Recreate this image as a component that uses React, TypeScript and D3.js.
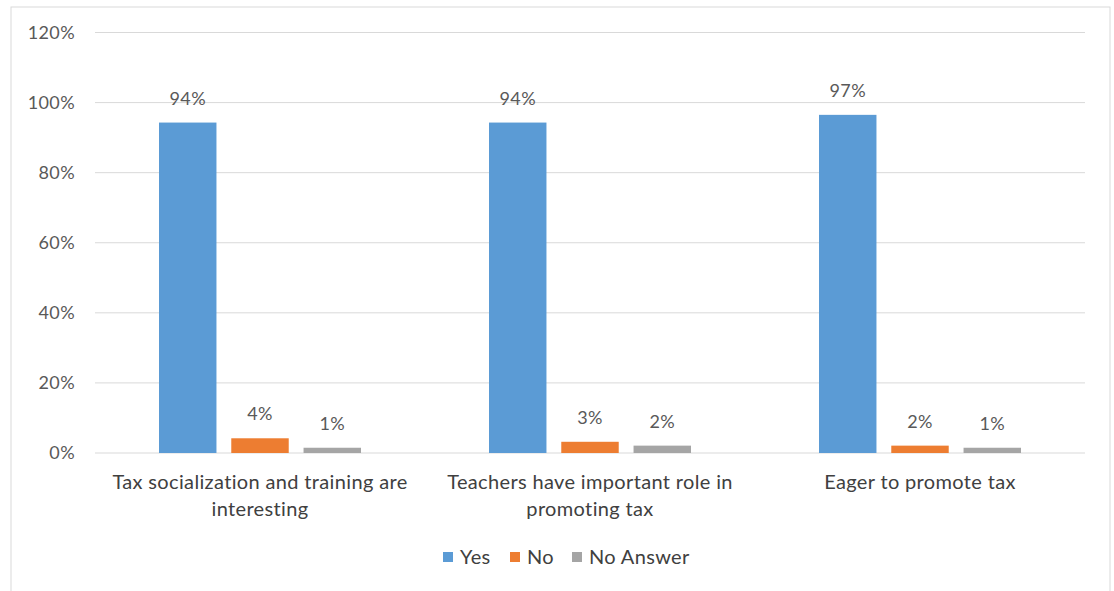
import React from "react";
import * as d3 from "d3";

const categories = [
  "Tax socialization and training are interesting",
  "Teachers have important role in promoting tax",
  "Eager to promote tax",
];
const categoryLines = [
  ["Tax socialization and training are", "interesting"],
  ["Teachers have important role in", "promoting tax"],
  ["Eager to promote tax"],
];
const seriesNames = ["Yes", "No", "No Answer"];
const yesValues = [94.3, 94.3, 96.5];
const noValues = [4.2, 3.2, 2.1];
const noAnswerValues = [1.5, 2.1, 1.5];
const valueLabels = [
  ["94%", "4%", "1%"],
  ["94%", "3%", "2%"],
  ["97%", "2%", "1%"],
];
const yTicks = [0, 20, 40, 60, 80, 100, 120];
const colors = ["#5B9BD5", "#ED7D31", "#A5A5A5"];

export default function App() {
  const W = 1114, H = 591;
  const left = 95, right = 1085, top = 32.5, bottom = 453;
  const font = "Lato, 'Open Sans', sans-serif";
  const x0 = d3.scaleBand<string>().domain(categories).range([left, right]).paddingInner(0).paddingOuter(0);
  const groupInner = 202;
  const x1 = d3
    .scaleBand<string>()
    .domain(seriesNames)
    .range([0, groupInner])
    .paddingInner(0.205)
    .paddingOuter(0);
  const y = d3.scaleLinear().domain([0, 120]).range([bottom, top]);
  const series = [yesValues, noValues, noAnswerValues];

  const legendItems = [
    { name: "Yes", x: 443 },
    { name: "No", x: 510 },
    { name: "No Answer", x: 572 },
  ];

  return (
    <svg width={W} height={H} style={{ position: "absolute", left: 0, top: 0, background: "#fff" }}>
      <rect x={11} y={7} width={1099} height={600} fill="#fff" stroke="#D9D9D9" strokeWidth={1} />
      {yTicks.map((t) => (
        <g key={t}>
          <line x1={left} x2={right} y1={y(t)} y2={y(t)} stroke="#D9D9D9" strokeWidth={1} />
          <text x={75} y={y(t)} dy="0.36em" textAnchor="end" fontFamily={font} fontSize={18} letterSpacing={0.4} fill="#595959">
            {t}%
          </text>
        </g>
      ))}
      {categories.map((c, ci) => {
        const gx = (x0(c) as number) + x0.bandwidth() / 2 - groupInner / 2;
        return (
          <g key={c}>
            {seriesNames.map((s, si) => {
              const v = series[si][ci];
              const bx = gx + (x1(s) as number);
              return (
                <g key={s}>
                  <rect x={bx} y={y(v)} width={x1.bandwidth()} height={y(0) - y(v)} fill={colors[si]} />
                  <text
                    x={bx + x1.bandwidth() / 2}
                    y={y(v) - 18}
                    textAnchor="middle"
                    fontFamily={font}
                    fontSize={18}
                    letterSpacing={0.4}
                    fill="#595959"
                  >
                    {valueLabels[ci][si]}
                  </text>
                </g>
              );
            })}
            {categoryLines[ci].map((ln, li) => (
              <text
                key={li}
                x={(x0(c) as number) + x0.bandwidth() / 2}
                y={489 + li * 27}
                textAnchor="middle"
                fontFamily={font}
                fontSize={20}
                letterSpacing={0.35}
                fill="#404040"
              >
                {ln}
              </text>
            ))}
          </g>
        );
      })}
      {legendItems.map((it, i) => (
        <g key={it.name}>
          <rect x={it.x} y={552} width={10} height={10} fill={colors[i]} />
          <text x={it.x + 17} y={564} fontFamily={font} fontSize={20} letterSpacing={0.35} fill="#404040">
            {it.name}
          </text>
        </g>
      ))}
    </svg>
  );
}
